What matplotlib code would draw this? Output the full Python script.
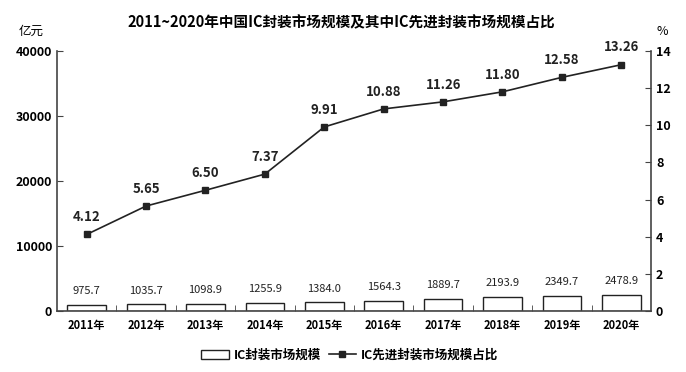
import numpy as np
import matplotlib.pyplot as plt

plt.rcParams['font.family'] = ['Noto Sans CJK SC', 'DejaVu Sans']

years = ['2011年', '2012年', '2013年', '2014年', '2015年',
         '2016年', '2017年', '2018年', '2019年', '2020年']
market = [975.7, 1035.7, 1098.9, 1255.9, 1384.0, 1564.3, 1889.7, 2193.9, 2349.7, 2478.9]
share = [4.12, 5.65, 6.50, 7.37, 9.91, 10.88, 11.26, 11.80, 12.58, 13.26]

x = np.arange(len(years))
axc = '#444444'

fig = plt.figure(figsize=(6.86, 3.72), dpi=100)
ax = fig.add_axes([0.083, 0.164, 0.866, 0.699])
bars = ax.bar(x, market, width=0.65, facecolor='white', edgecolor='#222222', linewidth=1.0,
              label='IC封装市场规模', zorder=2)
for xi, v in zip(x, market):
    ax.text(xi, v + 1300, f'{v:.1f}', ha='center', va='bottom', fontsize=8,
            fontweight='medium', color='#222222')

ax.set_xlim(-0.5, len(years) - 0.5)
ax.set_ylim(0, 40000)
ax.set_yticks([0, 10000, 20000, 30000, 40000])
ax.set_xticks(x)
ax.set_xticklabels(years, fontsize=8, fontweight='bold')
ax.set_xticks(x[:-1] + 0.5, minor=True)
ax.tick_params(axis='x', which='major', length=0, pad=6)
ax.tick_params(axis='x', which='minor', length=4, direction='in', color=axc)
ax.tick_params(axis='y', direction='in', length=4, color=axc, labelsize=9)
for lab in ax.get_yticklabels():
    lab.set_fontweight('bold')
ax.spines['top'].set_visible(False)
ax.spines['right'].set_visible(False)
for s in ['left', 'bottom']:
    ax.spines[s].set_color(axc)
    ax.spines[s].set_linewidth(1.2)

ax2 = ax.twinx()
line, = ax2.plot(x, share, color='#222222', marker='s', markersize=5, linewidth=1.2,
                 label='IC先进封装市场规模占比', zorder=3)
for xi, v in zip(x, share):
    ax2.text(xi, v + 0.55, f'{v:.2f}', ha='center', va='bottom', fontsize=9.5, fontweight='bold',
             color='#222222')
ax2.set_ylim(0, 14)
ax2.set_yticks(np.arange(0, 15, 2))
ax2.tick_params(axis='y', direction='in', length=4, color=axc, labelsize=9)
for lab in ax2.get_yticklabels():
    lab.set_fontweight('bold')
ax2.spines['top'].set_visible(False)
ax2.spines['left'].set_visible(False)
ax2.spines['bottom'].set_visible(False)
ax2.spines['right'].set_color(axc)
ax2.spines['right'].set_linewidth(1.2)

fig.text(0.497, 0.94, '2011~2020年中国IC封装市场规模及其中IC先进封装市场规模占比',
         ha='center', va='center', fontsize=10.5, fontweight='bold')
fig.text(0.045, 0.915, '亿元', ha='center', va='center', fontsize=9)
fig.text(0.966, 0.915, '%', ha='center', va='center', fontsize=9)

fig.legend([bars, line], ['IC封装市场规模', 'IC先进封装市场规模占比'], loc='center',
           bbox_to_anchor=(0.51, 0.045), ncol=2, frameon=False,
           prop={'weight': 'bold', 'size': 9}, handlelength=2.2, columnspacing=0.6,
           handletextpad=0.4)

fig.savefig('out.png', dpi=100)
